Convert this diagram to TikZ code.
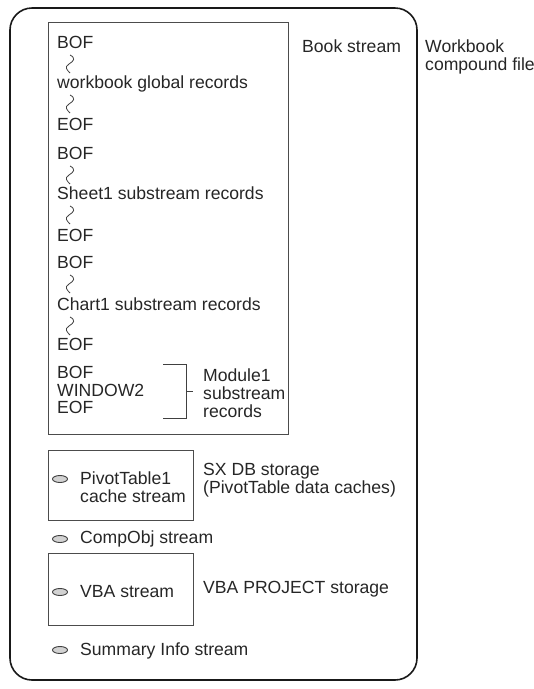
\documentclass[tikz,border=0pt]{standalone}
\usepackage{fontspec}
\setmainfont{Liberation Sans}
\usepackage{tikz}
\usetikzlibrary{calc, positioning, shapes.geometric}

\tikzset{
    rec/.style={anchor=base west, inner sep=0pt, text=black!85, align=left,
        font=\fontsize{17.6}{18}\selectfont},
    wiggle/.style={draw=black!75, line width=0.8pt},
    bin/.style={draw=gray!60!black, line width=1pt},
    blob/.style={ellipse, draw=black!75, fill=gray!35, line width=0.9pt,
        minimum width=15pt, minimum height=7pt, inner sep=0pt}
}

\begin{document}
\begin{tikzpicture}[x=1pt, y=-1pt]
        \useasboundingbox (0,0) rectangle (534,689);
        % compound file and storages
        \draw[black!90, line width=1.6pt, rounded corners=22pt] (10,8) rectangle (417,680);
        \draw[bin] (48,22) rectangle (288,434);
        \draw[bin] (48,450) rectangle (193,520);
        \draw[bin] (48,553) rectangle (193,625);

        % book stream substreams
        \node[rec] (b1) at (57,48) {BOF};
        \node[rec] (w1) at (57,88) {workbook global records};
        \node[rec] (e1) at (57,130) {EOF};
        \node[rec] (b2) at (57,159) {BOF};
        \node[rec] (s1) at (57,199) {Sheet1 substream records};
        \node[rec] (e2) at (57,241) {EOF};
        \node[rec] (b3) at (57,268) {BOF};
        \node[rec] (c1) at (57,310) {Chart1 substream records};
        \node[rec] (e3) at (57,350) {EOF};
        \node[rec] (b4) at (57,378) {BOF};
        \node[rec] (win) at (57,396) {WINDOW2};
        \node[rec] (e4) at (57,413) {EOF};
        \foreach \a in {b1, w1, b2, s1, b3, c1}
            \draw[wiggle] ([shift={(13pt,-7pt)}]\a.base west)
                .. controls +(6,3) and +(5,-3) .. ++(-1,9)
                .. controls +(-5,3) and +(-3,-3) .. ++(1,9);

        % module bracket
        \node[rec] (mod) at (203,417) {Module1\\substream\\records};
        \coordinate (bt) at (163,364);
        \coordinate (bb) at (163,418);
        \draw[black!75, line width=1pt] (bt) -| ($(bb)+(23,0)$) -- (bb);
        \draw[black!75, line width=1pt] ($(bt)!0.5!(bb)+(23,0)$) -- +(7,0);

        % labels on the right
        \node[rec] (book) at (302,52) {Book stream};
        \node[rec] (wbk) at (425,70) {Workbook\\compound file};
        \node[rec] (sxdb) at (203,493) {SX DB storage\\(PivotTable data caches)};
        \node[rec] (vbap) at (203,593) {VBA PROJECT storage};

        % streams
        \node[blob] (o1) at (60,479) {};
        \node[rec] (pvt) at (80,502) {PivotTable1\\cache stream};
        \node[blob] (o2) at (60,539) {};
        \node[rec] (cobj) at (80,543) {CompObj stream};
        \node[blob] (o3) at (60,592) {};
        \node[rec] (vbas) at (80,597) {VBA stream};
        \node[blob] (o4) at (60,650) {};
        \node[rec] (sinf) at (80,655) {Summary Info stream};
    \end{tikzpicture}
\end{document}
